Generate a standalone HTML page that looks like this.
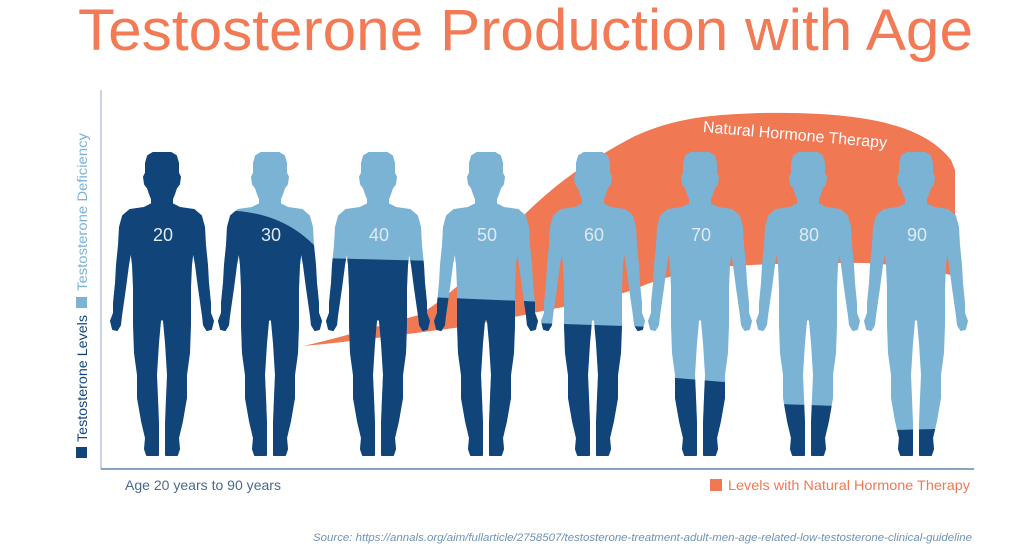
<!DOCTYPE html>
<html><head><meta charset="utf-8"><style>
html,body{margin:0;padding:0;background:#fff;width:1024px;height:550px;overflow:hidden}
svg{display:block}
text{font-family:"Liberation Sans",sans-serif}
</style></head><body>
<svg width="1024" height="550" viewBox="0 0 1024 550" xmlns="http://www.w3.org/2000/svg">
<defs>
<path id="man" d="M0,0 L9,0 14,3 16,10 16,20 18,24 17,31 14,35 12,41 10,46 10,51 18,55 32,57 39,63 42,74 43,92 45,112 46,130 48,150 48,160 51,168 49,176 45,177 42,172 41,163 40,156 37,135 34,112 31,95 29,112 28,135 28,158 28,172 27,200 24,222 24,245 20,268 16,285 17,296 15,302 4,302 4,290 4,270 5,245 6,222 4,190 2,168 0,165 -2,168 -4,190 -6,222 -5,245 -4,270 -4,290 -4,302 -15,302 -17,296 -16,285 -20,268 -24,245 -24,222 -27,200 -28,172 -28,158 -28,135 -29,112 -31,95 -34,112 -37,135 -40,156 -41,163 -42,172 -45,177 -49,176 -51,168 -48,160 -48,150 -46,130 -45,112 -43,92 -42,74 -39,63 -32,57 -18,55 -10,51 -10,46 -12,41 -14,35 -17,31 -18,24 -16,20 -16,10 -14,3 -9,0 Z" stroke-linejoin="round" stroke-width="2"/>
<clipPath id="c30"><path d="M-60,58 Q20,52 60,112 L60,310 L-60,310 Z"/></clipPath>
<clipPath id="c40"><path d="M-60,105 L60,108 L60,310 L-60,310 Z"/></clipPath>
<clipPath id="c50"><path d="M-60,144 L60,149 L60,310 L-60,310 Z"/></clipPath>
<clipPath id="c60"><path d="M-60,170 L60,174 L60,310 L-60,310 Z"/></clipPath>
<clipPath id="c70"><path d="M-60,222 L60,232 L60,310 L-60,310 Z"/></clipPath>
<clipPath id="c80"><path d="M-60,250 L60,254 L60,310 L-60,310 Z"/></clipPath>
<clipPath id="c90"><path d="M-60,278 L60,275 L60,310 L-60,310 Z"/></clipPath>
</defs>

<text x="78" y="50" font-size="58" fill="#F27A55" textLength="895" lengthAdjust="spacingAndGlyphs">Testosterone Production with Age</text>

<line x1="101" y1="90" x2="101" y2="469" stroke="#b6c6d8" stroke-width="1.5"/>
<line x1="101" y1="469" x2="974" y2="469" stroke="#5f87ad" stroke-width="1.5"/>

<path d="M303,346 C340,338 380,325 419,315 C460,290 500,245 526,213 C560,180 590,160 633,137 C670,120 700,115 760,113 C850,112 920,120 951,160 L955,170 L955,276 C920,268 880,262 848,263 C790,263 740,265 719,267 C680,272 650,282 633,290 C600,300 570,306 547,310 C510,318 490,322 462,327 C400,335 340,343 303,346 Z" fill="#F07852"/>
<text x="795" y="140" font-size="16" fill="#fff" text-anchor="middle" transform="rotate(5 795 135)">Natural Hormone Therapy</text>

<g fill="#11457A" stroke="#11457A"><use href="#man" transform="translate(162,153)"/></g>
<g transform="translate(270,153)"><use href="#man" fill="#7BB3D5" stroke="#7BB3D5"/><g clip-path="url(#c30)"><use href="#man" fill="#11457A" stroke="#11457A"/></g></g>
<g transform="translate(378,153)"><use href="#man" fill="#7BB3D5" stroke="#7BB3D5"/><g clip-path="url(#c40)"><use href="#man" fill="#11457A" stroke="#11457A"/></g></g>
<g transform="translate(486,153)"><use href="#man" fill="#7BB3D5" stroke="#7BB3D5"/><g clip-path="url(#c50)"><use href="#man" fill="#11457A" stroke="#11457A"/></g></g>
<g transform="translate(593,153)"><use href="#man" fill="#7BB3D5" stroke="#7BB3D5"/><g clip-path="url(#c60)"><use href="#man" fill="#11457A" stroke="#11457A"/></g></g>
<g transform="translate(700,153)"><use href="#man" fill="#7BB3D5" stroke="#7BB3D5"/><g clip-path="url(#c70)"><use href="#man" fill="#11457A" stroke="#11457A"/></g></g>
<g transform="translate(808,153)"><use href="#man" fill="#7BB3D5" stroke="#7BB3D5"/><g clip-path="url(#c80)"><use href="#man" fill="#11457A" stroke="#11457A"/></g></g>
<g transform="translate(916,153)"><use href="#man" fill="#7BB3D5" stroke="#7BB3D5"/><g clip-path="url(#c90)"><use href="#man" fill="#11457A" stroke="#11457A"/></g></g>

<g font-size="18" fill="#dfeaf3" text-anchor="middle">
<text x="163" y="241">20</text><text x="271" y="241">30</text><text x="379" y="241">40</text><text x="487" y="241">50</text>
<text x="594" y="241">60</text><text x="701" y="241">70</text><text x="809" y="241">80</text><text x="917" y="241">90</text>
</g>

<g transform="translate(87,458) rotate(-90)" font-size="14">
<rect x="0" y="-11" width="11" height="11" fill="#11457A"/>
<text x="16" y="0" fill="#11457A" textLength="127" lengthAdjust="spacingAndGlyphs">Testosterone Levels</text>
<rect x="150" y="-11" width="11" height="11" fill="#7BB3D5"/>
<text x="167" y="0" fill="#7BB3D5" textLength="158" lengthAdjust="spacingAndGlyphs">Testosterone Deficiency</text>
</g>

<text x="125" y="490" font-size="14" fill="#4a6a8c" textLength="156" lengthAdjust="spacingAndGlyphs">Age 20 years to 90 years</text>
<rect x="710" y="479" width="12" height="12" fill="#F07852"/>
<text x="728" y="490" font-size="14" fill="#F07852" textLength="242" lengthAdjust="spacingAndGlyphs">Levels with Natural Hormone Therapy</text>
<text x="313" y="541" font-size="11" font-style="italic" fill="#6f93b8" textLength="659" lengthAdjust="spacingAndGlyphs">Source: https://annals.org/aim/fullarticle/2758507/testosterone-treatment-adult-men-age-related-low-testosterone-clinical-guideline</text>
</svg>
</body></html>
